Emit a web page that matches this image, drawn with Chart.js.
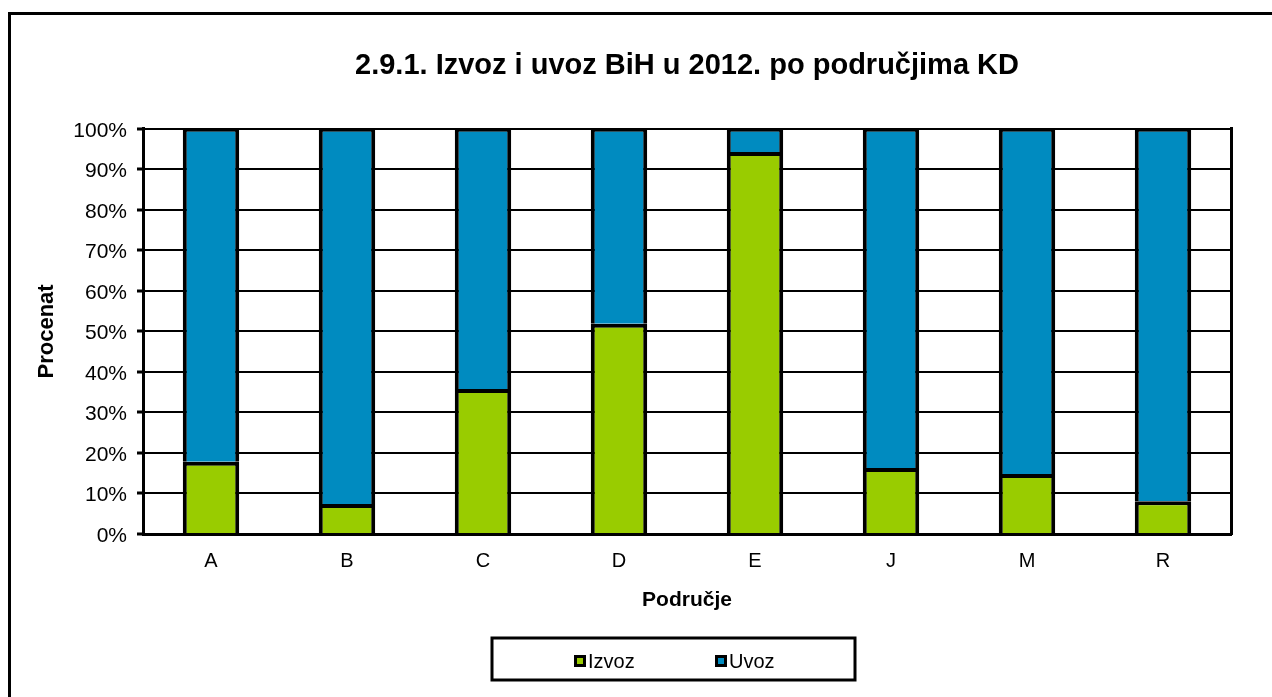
<!DOCTYPE html>
<html>
<head>
<meta charset="utf-8">
<script src="https://cdn.jsdelivr.net/npm/chart.js@4"></script>
<style>
  html, body { margin: 0; padding: 0; background: #fff; overflow: hidden; width: 1272px; height: 697px; }
  #frame { position: absolute; left: 8px; top: 12px; width: 1400px; height: 800px; border-left: 3px solid #000; border-top: 3px solid #000; }
  #Graph_KD { position: absolute; left: 0; top: 0; }
</style>
</head>
<body>
<div id="frame"></div>
<canvas id="Graph_KD" width="1374" height="697"></canvas>
<script>
// podaci ocitani sa grafika (procenti)
const podrucja = ["A", "B", "C", "D", "E", "J", "M", "R"];
const izvoz = [17.8, 7.4, 35.8, 51.9, 94.3, 16.3, 14.8, 8.1];
const uvoz = [82.2, 92.6, 64.2, 48.1, 5.7, 83.7, 85.2, 91.9];
const yTicks = [0, 10, 20, 30, 40, 50, 60, 70, 80, 90, 100];

const fontFam = "'Liberation Sans', Arial, sans-serif";
const green = "#99CC00";
const blue = "#008BC0";

// legenda sa okvirom kao u Excelu
const boxLegend = {
    id: "boxLegend",
    afterDraw(chart) {
        const ctx = chart.ctx;
        ctx.save();
        ctx.lineWidth = 3;
        ctx.strokeStyle = "#000";
        ctx.strokeRect(492, 638, 363, 42);
        const xs = [574, 715];
        ctx.font = "20px " + fontFam;
        ctx.textBaseline = "middle";
        chart.data.datasets.forEach((ds, i) => {
            ctx.fillStyle = "#000";
            ctx.fillRect(xs[i], 655, 12, 12);
            ctx.fillStyle = ds.backgroundColor;
            ctx.fillRect(xs[i] + 3, 658, 6, 6);
            ctx.fillStyle = "#000";
            ctx.fillText(ds.label, xs[i] + 14, 662);
        });
        ctx.restore();
    }
};

const ctx = document.getElementById("Graph_KD").getContext("2d");
const graph = new Chart(ctx, {
    type: "bar",
    data: {
        labels: podrucja,
        datasets: [{
            label: "Izvoz",
            data: izvoz,
            backgroundColor: green,
            borderColor: "#000",
            borderWidth: { top: 4, left: 4, right: 4, bottom: 0 },
            borderSkipped: false
        }, {
            label: "Uvoz",
            data: uvoz,
            backgroundColor: blue,
            borderColor: "#000",
            borderWidth: { top: 3, left: 4, right: 4, bottom: 0 },
            borderSkipped: false
        }]
    },
    options: {
        responsive: false,
        animation: false,
        devicePixelRatio: 1,
        datasets: {
            bar: { barPercentage: 0.415, categoryPercentage: 1.0 }
        },
        layout: { padding: 0 },
        plugins: {
            legend: { display: false },
            tooltip: { enabled: false },
            title: {
                display: true,
                text: "2.9.1. Izvoz i uvoz BiH u 2012. po područjima KD",
                color: "#000",
                font: { family: fontFam, size: 29, weight: "bold" },
                padding: { top: 49, bottom: 45 }
            }
        },
        scales: {
            x: {
                stacked: true,
                grid: { display: false },
                border: { display: true, color: "#000", width: 3 },
                ticks: { color: "#000", font: { family: fontFam, size: 20 }, padding: 7 },
                title: {
                    display: true,
                    text: "Područje",
                    color: "#000",
                    font: { family: fontFam, size: 21, weight: "bold" },
                    padding: { top: 0, bottom: 84 }
                },
                afterFit: (scale) => { scale.height = 163; }
            },
            y: {
                stacked: true,
                min: 0,
                max: 100,
                afterBuildTicks: (scale) => { scale.ticks = yTicks.map(v => ({ value: v })); },
                grid: { color: "#000", lineWidth: 2, tickLength: 6, tickColor: "#000", tickWidth: 3 },
                border: { display: true, color: "#000", width: 3 },
                ticks: {
                    color: "#000",
                    font: { family: fontFam, size: 21 },
                    padding: 10,
                    labelOffset: 2,
                    callback: (v) => v + "%"
                },
                title: {
                    display: true,
                    text: "Procenat",
                    color: "#000",
                    font: { family: fontFam, size: 22, weight: "bold" },
                    padding: { top: 34, bottom: 0 }
                },
                afterFit: (scale) => { scale.width = 143; }
            },
            yR: {
                position: "right",
                min: 0,
                max: 100,
                grid: { display: false },
                border: { display: true, color: "#000", width: 3 },
                ticks: { display: false },
                afterFit: (scale) => { scale.width = 143; }
            }
        }
    },
    plugins: [boxLegend]
});
</script>
</body>
</html>
